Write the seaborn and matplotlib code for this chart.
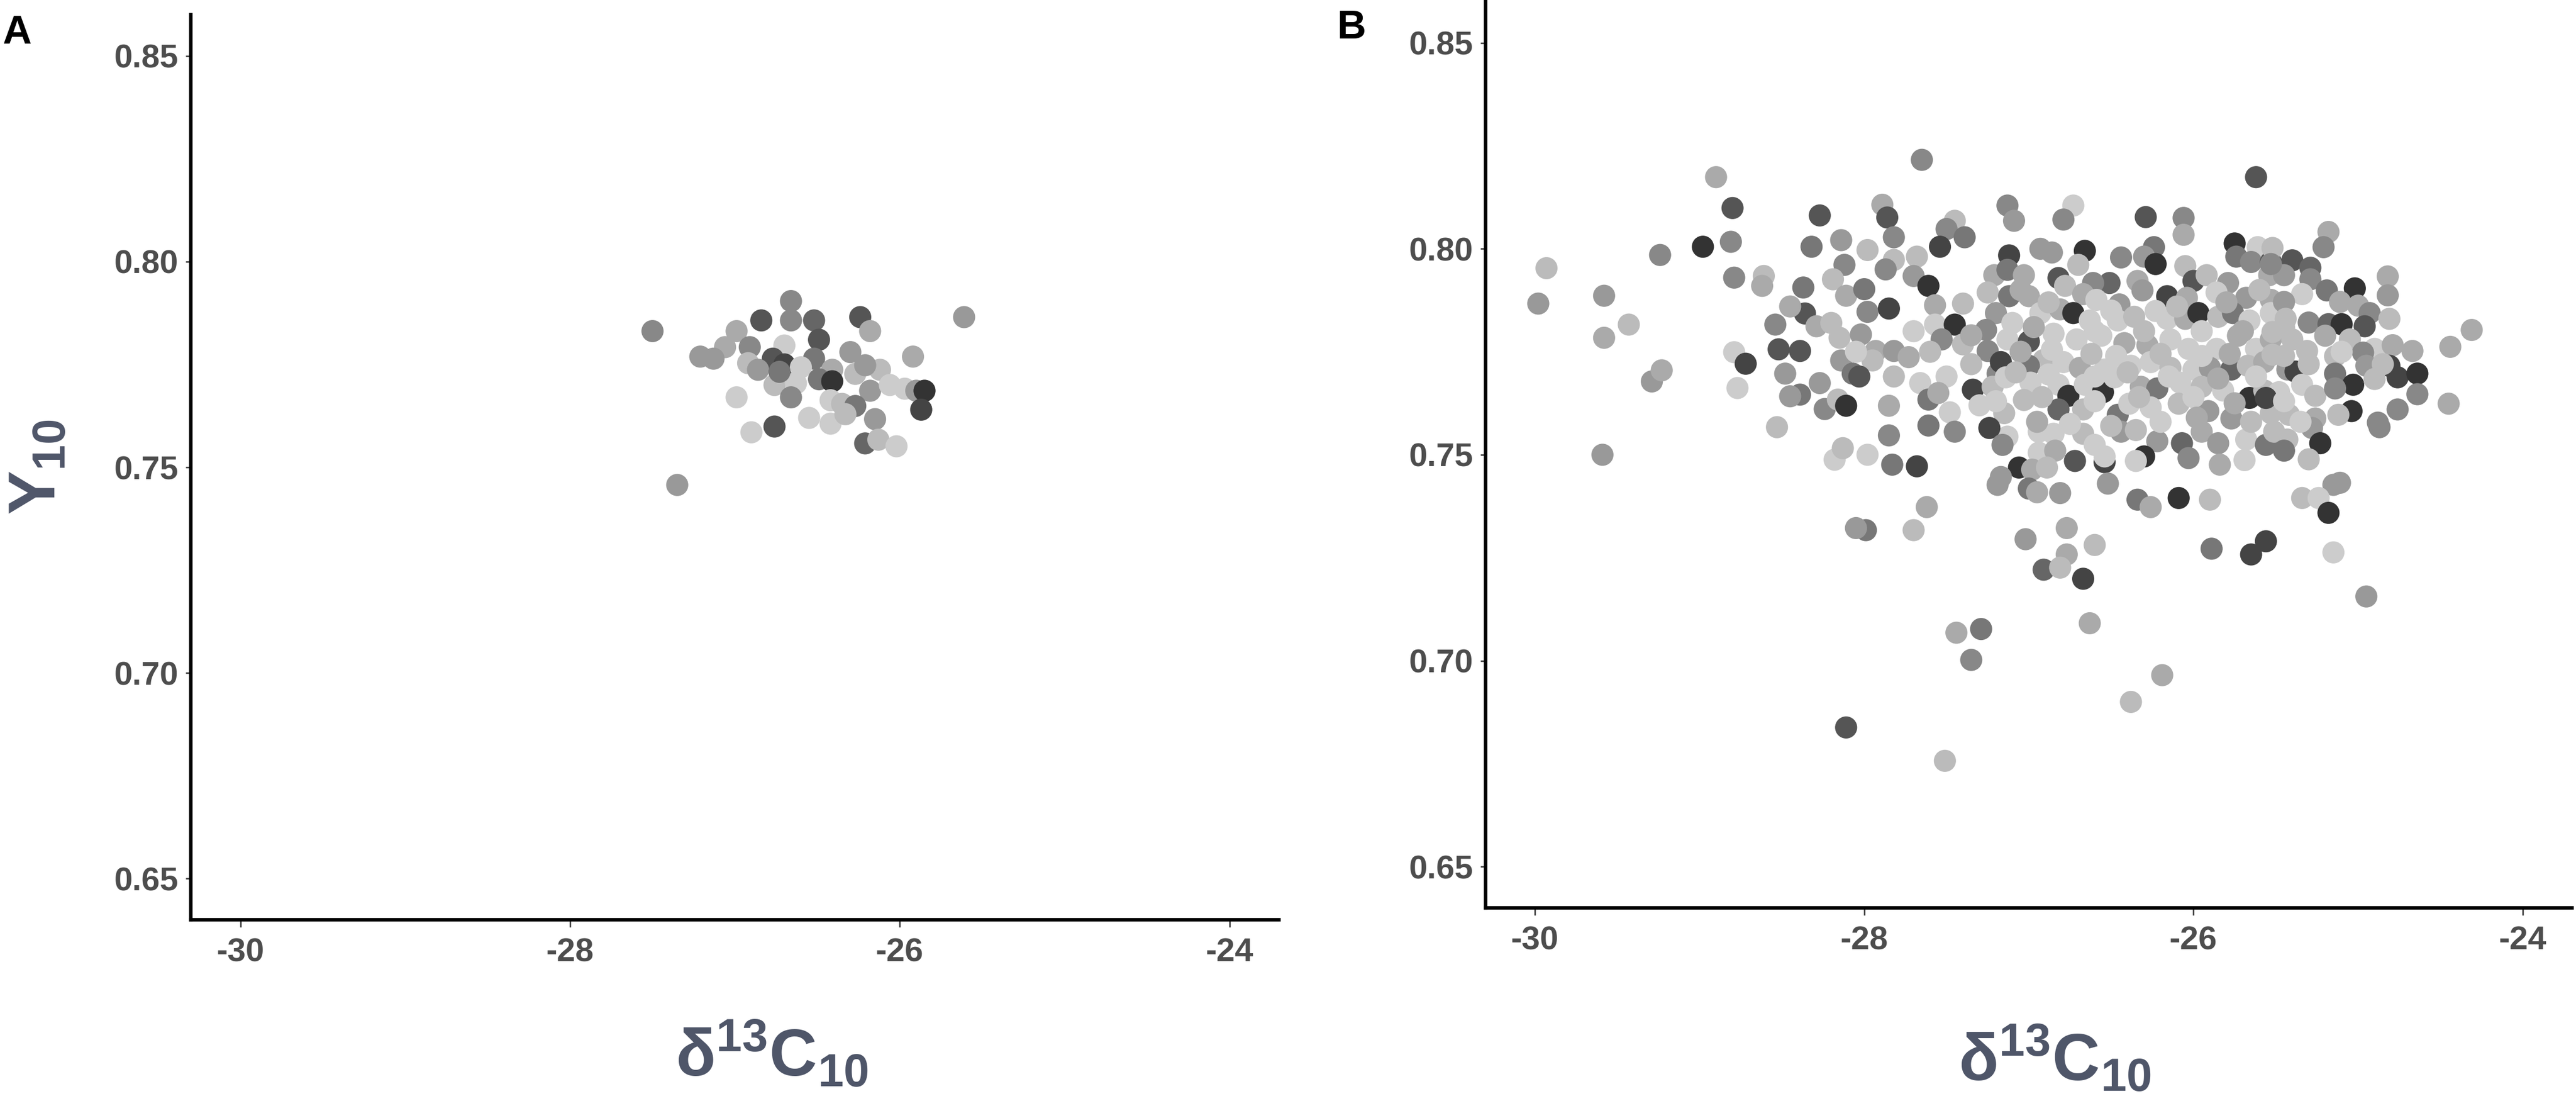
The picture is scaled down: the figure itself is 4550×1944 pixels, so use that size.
import pandas as pd
import seaborn as sns
import matplotlib.pyplot as plt
from matplotlib.colors import LinearSegmentedColormap

# Panel A: d13C vs Y, grp = gray level group (1 dark .. 10 light)
a_d13c = [-27.50, -27.35, -26.84, -26.66, -26.66, -26.52, -26.24, -26.18, -25.61, -26.99,
          -27.06, -27.21, -27.13, -26.91, -26.70, -26.49, -26.52, -26.30, -25.92, -26.77,
          -26.70, -26.92, -26.86, -26.60, -26.41, -26.27, -26.12, -26.21, -26.76, -26.63,
          -26.49, -26.41, -26.73, -26.66, -26.18, -26.06, -25.97, -25.90, -25.85, -25.87,
          -26.99, -26.42, -26.35, -26.27, -26.55, -26.42, -26.33, -26.15, -26.76, -26.90,
          -26.21, -26.13, -26.02]
a_y10 = [0.7831, 0.7457, 0.7857, 0.7904, 0.7857, 0.7857, 0.7865, 0.7831, 0.7865, 0.7831,
         0.7792, 0.7769, 0.7764, 0.7792, 0.7796, 0.7810, 0.7764, 0.7780, 0.7769, 0.7764,
         0.7750, 0.7753, 0.7737, 0.7743, 0.7737, 0.7727, 0.7737, 0.7748, 0.7700, 0.7704,
         0.7714, 0.7709, 0.7732, 0.7670, 0.7686, 0.7700, 0.7691, 0.7686, 0.7686, 0.7640,
         0.7670, 0.7663, 0.7654, 0.7649, 0.7620, 0.7606, 0.7629, 0.7617, 0.7599, 0.7585,
         0.7558, 0.7567, 0.7551]
a_grp = [6, 7, 3, 6, 6, 4, 3, 8, 7, 8,
         8, 7, 7, 6, 10, 3, 5, 7, 8, 3,
         2, 9, 7, 10, 8, 9, 9, 7, 9, 10,
         5, 1, 5, 6, 7, 10, 10, 7, 1, 2,
         10, 10, 9, 5, 10, 10, 9, 7, 3, 10,
         4, 9, 10]

# Panel B
b_d13c = [
    # left part
    -28.90, -27.65, -28.80, -28.27, -27.89, -27.86, -27.45, -27.50, -27.39, -27.54,
    -27.82, -28.98, -28.81, -29.24, -29.93, -29.98, -29.58, -29.58, -29.43, -29.59,
    -29.29, -29.23, -28.79, -28.61, -28.62, -28.79, -28.72, -28.77, -28.54, -28.52,
    -28.39, -28.48, -28.39, -28.53, -28.37, -28.32, -28.36, -28.29, -28.24, -28.16,
    -28.11, -28.18, -28.13, -27.98, -27.83, -27.68, -28.14, -27.98, -28.12, -28.19,
    -28.11, -28.00, -27.98, -28.15, -28.02, -28.14, -28.07, -27.93, -27.85, -27.82,
    -27.87, -27.68, -27.70, -27.61, -27.57, -27.57, -27.45, -27.40, -27.40, -27.53,
    -27.82, -27.82, -27.73, -27.66, -27.61, -27.50, -27.48, -27.45, -27.61, -27.34,
    -27.19, -27.85, -27.85, -27.95, -28.03, -28.45, -28.27,
    # lower left
    -27.99, -28.05, -27.62, -27.70, -27.44, -27.29, -27.35, -28.11, -27.51,
    # upper middle
    -25.62, -27.13, -27.09, -26.73, -26.79, -26.29, -26.06, -26.06, -27.12, -26.93,
    -26.86, -26.66, -26.70, -26.44, -26.24, -26.30, -26.23, -26.05, -25.75, -25.61,
    -25.74, -25.65, -25.53, -25.54, -27.21, -27.13, -27.03, -26.82, -26.78, -26.51,
    -26.61, -26.34, -26.00, -25.92, -25.79, -25.86, -27.25, -27.12, -27.00, -26.67,
    -26.59, -26.45, -26.31, -26.16, -26.04, -25.68, -25.53, -27.20, -26.93, -26.81,
    -26.73, -26.63, -26.46, -26.36, -26.23, -26.16, -26.05, -25.97, -25.85, -25.76,
    -25.66, -25.53, -27.26, -27.13, -27.00, -26.85, -26.71, -26.56, -26.42, -26.28,
    -26.14, -26.03, -25.86, -25.73, -25.62, -25.53, -27.25, -27.17, -26.91, -26.79,
    -26.69, -26.54, -26.38, -26.26, -26.14, -26.00, -25.90, -25.77, -25.67, -25.57,
    -27.22, -27.00, -27.14, -26.99, -26.82, -26.76, -26.66, -26.55, -26.48, -26.32,
    -26.22, -26.08, -25.95, -25.82, -25.66, -25.57, -27.15, -27.03, -26.82, -26.67,
    -26.46, -26.39, -26.26, -26.09, -25.91, -25.77, -25.53,
    # upper right
    -25.18, -25.21, -25.52, -25.40, -25.29, -25.45, -25.53, -25.29, -25.34, -25.19,
    -25.02, -24.82, -24.82, -25.45, -25.11, -25.00, -24.93, -24.81, -25.44, -25.30,
    -25.18, -25.10, -24.96, -25.52, -25.40, -25.20, -25.05, -24.90, -24.79, -24.67,
    -24.44, -24.31, -25.52, -25.31, -25.14, -24.97, -25.43, -25.38, -25.14, -24.95,
    -24.81, -24.76, -24.64, -25.03, -24.90, -25.34, -25.48, -25.56, -25.26, -25.14,
    -24.64, -24.45, -25.04, -25.12, -24.76, -24.88, -25.42, -25.26,
    # lower middle
    -27.13, -27.24, -27.16, -26.94, -26.85, -26.94, -26.84, -27.06, -26.98, -26.89,
    -26.72, -26.67, -26.60, -26.54, -26.54, -26.44, -26.35, -26.22, -26.30, -26.35,
    -26.07, -26.03, -25.95, -25.85, -25.84, -25.69, -25.68, -25.56, -25.51, -27.17,
    -27.19, -27.00, -26.95, -26.81, -26.52, -26.34, -26.26, -26.09, -25.90, -27.02,
    -26.77, -26.60, -26.77, -26.91, -26.81, -26.67, -25.89, -25.56, -25.65, -26.63,
    -26.19, -26.38,
    # lower right
    -25.43, -25.45, -25.28, -24.87, -25.23, -25.30, -25.15, -25.11, -25.34, -25.24,
    -25.18, -25.15, -24.95,
    # dense core (estimated, mostly light)
    -27.05, -26.88, -26.50, -26.10, -25.80, -25.60, -27.10, -26.97, -26.60, -26.30,
    -25.95, -25.70, -25.45, -27.05, -26.86, -26.62, -26.47, -26.20, -25.95, -25.78,
    -25.45, -27.08, -26.88, -26.60, -26.40, -26.15, -25.85, -25.62, -27.20, -26.92,
    -26.60, -26.33, -26.00, -25.75, -25.45, -26.95, -26.75, -26.50, -26.20, -25.98,
    -25.65, -25.35, -27.60, -27.70, -27.35, -27.35, -27.55, -27.30, -28.20, -28.45,
    -28.05, -25.30, -25.10, -24.85,
]
b_y10 = [
    0.8174, 0.8216, 0.8099, 0.8081, 0.8107, 0.8076, 0.8068, 0.8048, 0.8028, 0.8005,
    0.8028, 0.8005, 0.8017, 0.7985, 0.7953, 0.7867, 0.7886, 0.7784, 0.7816, 0.7500,
    0.7678, 0.7705, 0.7930, 0.7934, 0.7910, 0.7749, 0.7721, 0.7662, 0.7816, 0.7756,
    0.7752, 0.7697, 0.7646, 0.7567, 0.7906, 0.8005, 0.7843, 0.7812, 0.7611, 0.7634,
    0.7619, 0.7488, 0.7516, 0.7500, 0.7476, 0.7472, 0.8021, 0.7997, 0.7961, 0.7926,
    0.7886, 0.7902, 0.7847, 0.7784, 0.7792, 0.7729, 0.7697, 0.7752, 0.7855, 0.7973,
    0.7950, 0.7981, 0.7934, 0.7910, 0.7863, 0.7816, 0.7816, 0.7867, 0.7768, 0.7780,
    0.7752, 0.7690, 0.7737, 0.7674, 0.7634, 0.7690, 0.7603, 0.7556, 0.7571, 0.7658,
    0.7697, 0.7547, 0.7619, 0.7729, 0.7690, 0.7642, 0.7674,
    0.7317, 0.7322, 0.7373, 0.7317, 0.7068, 0.7077, 0.7002, 0.6838, 0.6757,
    0.8174, 0.8105, 0.8068, 0.8105, 0.8071, 0.8077, 0.8075, 0.8034, 0.7984, 0.8000,
    0.7991, 0.7995, 0.7961, 0.7979, 0.8004, 0.7981, 0.7963, 0.7958, 0.8013, 0.8004,
    0.7981, 0.7968, 0.7968, 0.7936, 0.7936, 0.7949, 0.7936, 0.7929, 0.7910, 0.7917,
    0.7917, 0.7922, 0.7922, 0.7936, 0.7917, 0.7894, 0.7894, 0.7885, 0.7885, 0.7890,
    0.7876, 0.7865, 0.7899, 0.7885, 0.7881, 0.7881, 0.7876, 0.7844, 0.7844, 0.7853,
    0.7844, 0.7826, 0.7826, 0.7835, 0.7849, 0.7830, 0.7830, 0.7844, 0.7835, 0.7844,
    0.7826, 0.7844, 0.7803, 0.7780, 0.7775, 0.7794, 0.7780, 0.7789, 0.7771, 0.7766,
    0.7780, 0.7757, 0.7757, 0.7789, 0.7757, 0.7780, 0.7752, 0.7725, 0.7730, 0.7725,
    0.7711, 0.7707, 0.7716, 0.7725, 0.7711, 0.7707, 0.7711, 0.7707, 0.7716, 0.7725,
    0.7665, 0.7716, 0.7688, 0.7675, 0.7670, 0.7643, 0.7670, 0.7652, 0.7688, 0.7665,
    0.7661, 0.7675, 0.7665, 0.7656, 0.7638, 0.7656, 0.7601, 0.7633, 0.7610, 0.7610,
    0.7597, 0.7624, 0.7615, 0.7624, 0.7606, 0.7588, 0.7601,
    0.8041, 0.8004, 0.8002, 0.7972, 0.7954, 0.7936, 0.7963, 0.7926, 0.7890, 0.7899,
    0.7904, 0.7933, 0.7887, 0.7871, 0.7871, 0.7862, 0.7844, 0.7830, 0.7830, 0.7821,
    0.7817, 0.7817, 0.7812, 0.7798, 0.7780, 0.7789, 0.7780, 0.7757, 0.7766, 0.7752,
    0.7762, 0.7803, 0.7743, 0.7752, 0.7739, 0.7748, 0.7707, 0.7702, 0.7697, 0.7716,
    0.7716, 0.7688, 0.7697, 0.7670, 0.7684, 0.7670, 0.7652, 0.7638, 0.7643, 0.7661,
    0.7647, 0.7624, 0.7606, 0.7597, 0.7610, 0.7578, 0.7597, 0.7588,
    0.7544, 0.7565, 0.7524, 0.7556, 0.7551, 0.7505, 0.7510, 0.7469, 0.7464, 0.7469,
    0.7485, 0.7551, 0.7524, 0.7482, 0.7496, 0.7556, 0.7560, 0.7533, 0.7496, 0.7485,
    0.7528, 0.7492, 0.7556, 0.7528, 0.7476, 0.7487, 0.7537, 0.7524, 0.7556, 0.7446,
    0.7427, 0.7418, 0.7409, 0.7407, 0.7430, 0.7391, 0.7373, 0.7395, 0.7391, 0.7295,
    0.7322, 0.7281, 0.7258, 0.7221, 0.7226, 0.7199, 0.7272, 0.7290, 0.7258, 0.7091,
    0.6965, 0.6900,
    0.7537, 0.7510, 0.7565, 0.7567, 0.7528, 0.7489, 0.7427, 0.7432, 0.7395, 0.7395,
    0.7359, 0.7263, 0.7156,
    0.7900, 0.7870, 0.7850, 0.7860, 0.7870, 0.7900, 0.7820, 0.7810, 0.7800, 0.7800,
    0.7800, 0.7800, 0.7810, 0.7750, 0.7755, 0.7745, 0.7740, 0.7745, 0.7740, 0.7745,
    0.7740, 0.7700, 0.7695, 0.7690, 0.7700, 0.7690, 0.7685, 0.7690, 0.7630, 0.7640,
    0.7630, 0.7640, 0.7640, 0.7625, 0.7630, 0.7580, 0.7575, 0.7570, 0.7580, 0.7590,
    0.7580, 0.7580, 0.7750, 0.7800, 0.7790, 0.7720, 0.7650, 0.7620, 0.7820, 0.7860,
    0.7750, 0.7720, 0.7750, 0.7720,
]
b_grp = [
    8, 6, 3, 3, 8, 3, 9, 6, 5, 2,
    6, 1, 6, 6, 9, 7, 7, 8, 9, 7,
    7, 8, 6, 9, 8, 10, 2, 10, 6, 3,
    3, 7, 5, 9, 5, 5, 3, 8, 6, 9,
    1, 10, 9, 10, 5, 2, 7, 9, 6, 9,
    8, 5, 6, 9, 7, 7, 5, 8, 2, 9,
    6, 9, 7, 1, 8, 10, 1, 9, 9, 6,
    7, 9, 8, 10, 5, 10, 10, 6, 5, 2,
    6, 6, 8, 9, 3, 7, 7,
    5, 7, 8, 9, 8, 5, 6, 3, 9,
    3, 6, 7, 10, 6, 3, 6, 8, 2, 7,
    7, 1, 9, 6, 5, 7, 1, 9, 1, 10,
    5, 6, 3, 8, 8, 5, 8, 3, 9, 4,
    6, 8, 3, 9, 7, 10, 9, 5, 8, 8,
    10, 7, 7, 2, 8, 7, 8, 7, 10, 8,
    1, 10, 10, 9, 10, 10, 8, 1, 9, 5,
    10, 10, 6, 10, 3, 10, 10, 10, 8, 8,
    10, 10, 10, 8, 10, 8, 6, 2, 9, 10,
    8, 10, 10, 10, 9, 10, 7, 4, 9, 8,
    9, 5, 10, 10, 10, 1, 10, 1, 10, 8,
    5, 10, 9, 10, 1, 9, 9, 9, 4, 9,
    5, 10, 10, 9, 7, 7, 9,
    8, 6, 9, 3, 4, 7, 6, 6, 10, 5,
    1, 8, 7, 7, 8, 8, 6, 9, 9, 6,
    4, 1, 3, 9, 9, 8, 9, 10, 8, 8,
    8, 8, 9, 9, 9, 6, 7, 2, 5, 7,
    2, 2, 1, 1, 9, 10, 10, 2, 9, 6,
    6, 8, 1, 9, 6, 6, 9, 8,
    10, 2, 6, 10, 10, 10, 8, 1, 8, 9,
    3, 9, 10, 2, 10, 7, 9, 7, 1, 10,
    4, 6, 8, 7, 8, 10, 10, 5, 9, 7,
    7, 5, 8, 7, 7, 5, 8, 1, 9, 7,
    8, 9, 8, 4, 9, 2, 5, 2, 2, 8,
    8, 9,
    9, 5, 7, 6, 1, 9, 7, 7, 9, 10,
    1, 10, 7,
    8, 9, 10, 9, 8, 9, 10, 8, 10, 9,
    10, 8, 9, 8, 10, 9, 10, 9, 10, 8,
    9, 9, 10, 10, 9, 10, 8, 10, 10, 9,
    10, 9, 10, 8, 10, 8, 10, 9, 10, 8,
    9, 10, 9, 10, 8, 9, 8, 10, 9, 8,
    10, 9, 10, 9,
]

x_ticks = [-30, -28, -26, -24]
y_ticks = [0.65, 0.70, 0.75, 0.80, 0.85]
y_tick_labels = ['0.65', '0.70', '0.75', '0.80', '0.85']

dfA = pd.DataFrame({'d13c': a_d13c, 'y10': a_y10, 'grp': a_grp})
dfB = pd.DataFrame({'d13c': b_d13c, 'y10': b_y10, 'grp': b_grp})

sns.set_theme(style='white')
plt.rcParams['font.family'] = ['Liberation Sans', 'DejaVu Sans']
plt.rcParams['font.weight'] = 'bold'
plt.rcParams['axes.unicode_minus'] = False
plt.rcParams['mathtext.fontset'] = 'custom'
plt.rcParams['mathtext.rm'] = 'Liberation Sans:bold'
plt.rcParams['mathtext.it'] = 'Liberation Sans:bold'
plt.rcParams['mathtext.bf'] = 'Liberation Sans:bold'

grays = LinearSegmentedColormap.from_list('grays', ['#333333', '#cccccc'])
title_col = '#4F5669'
tick_col = '#4D4D4D'

fig = plt.figure(figsize=(4550 / 300, 1944 / 300), dpi=300)
axA = fig.add_axes([0.0741, 0.1646, 0.4224, 0.8220])
axB = fig.add_axes([0.5767, 0.1754, 0.4218, 0.8231])

for ax, df in [(axA, dfA), (axB, dfB)]:
    sns.scatterplot(data=df, x='d13c', y='y10', hue='grp', palette=grays,
                    hue_norm=(1, 10), s=88, linewidth=0, legend=False, ax=ax)
    ax.set_xlim(-30.3, -23.7)
    ax.set_ylim(0.64, 0.86)
    ax.set_xticks(x_ticks)
    ax.set_xticklabels([str(t) for t in x_ticks])
    ax.set_yticks(y_ticks)
    ax.set_yticklabels(y_tick_labels)
    sns.despine(ax=ax)
    for side in ['left', 'bottom']:
        ax.spines[side].set_linewidth(1.5)
        ax.spines[side].set_color('black')
    ax.tick_params(axis='y', left=True, length=2.2, width=0.6, color='#333333',
                   pad=3, labelsize=14, labelcolor=tick_col)
    ax.tick_params(axis='x', bottom=True, length=3, width=0.6, color='#333333',
                   pad=4.5, labelsize=14, labelcolor=tick_col)
    ax.set_xlabel(r'$\mathrm{δ^{13}C_{10}}$', fontsize=28, color=title_col)
    ax.set_ylabel('')

axA.xaxis.set_label_coords(0.534, -0.11)
axB.xaxis.set_label_coords(0.524, -0.128)
axA.set_ylabel(r'$\mathrm{Y_{10}}$', fontsize=28, color=title_col)
axA.yaxis.set_label_coords(-0.112, 0.5)

fig.text(0.001, 0.9866, 'A', fontsize=17, fontweight='bold', color='black', va='top', ha='left')
fig.text(0.5189, 0.9913, 'B', fontsize=17, fontweight='bold', color='black', va='top', ha='left')

fig.savefig('out.png', dpi=300)
